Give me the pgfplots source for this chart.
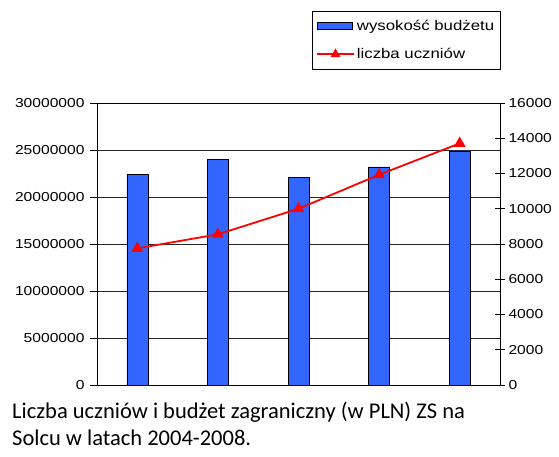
\documentclass[border=0pt]{standalone}
\usepackage{fontspec}
\setmainfont{Liberation Sans}[FakeStretch=1.2]
\newfontfamily\capfont{Carlito}
\usepackage{pgfplots}
\pgfplotsset{compat=1.18}
\definecolor{barblue}{RGB}{51,102,255}

\begin{document}
\begin{tikzpicture}
\path[use as bounding box] (0,0) rectangle (559bp,457bp);
\begin{axis}[
  at={(97bp,72bp)}, anchor=south west,
  scale only axis, width=403bp, height=282bp,
  xmin=-0.5, xmax=4.5, ymin=0, ymax=30000000,
  xtick=\empty,
  ytick={0,5000000,10000000,15000000,20000000,25000000,30000000},
  scaled y ticks=false,
  /pgf/number format/assume math mode=true,
  yticklabel style={/pgf/number format/fixed, /pgf/number format/1000 sep={}, font=\fontsize{13bp}{15bp}\selectfont, xshift=-2bp},
  ytick pos=left, tick align=outside, major tick length=7bp,
  ymajorgrids, grid style={black!85, line width=0.6bp},
  axis line style={black, line width=0.7bp},
  tick style={black, line width=0.6bp},
  ybar, bar width=0.26,
]
\addplot[fill=barblue, draw=black, line width=0.5bp] coordinates {(0,22400000) (1,24000000) (2,22100000) (3,23200000) (4,24900000)};
\end{axis}
\begin{axis}[
  at={(97bp,72bp)}, anchor=south west,
  scale only axis, width=403bp, height=282bp,
  xmin=-0.5, xmax=4.5, ymin=0, ymax=16000,
  axis y line*=right, axis x line=none,
  ytick={0,2000,4000,6000,8000,10000,12000,14000,16000},
  scaled y ticks=false,
  /pgf/number format/assume math mode=true,
  yticklabel style={/pgf/number format/fixed, /pgf/number format/1000 sep={}, font=\fontsize{13bp}{15bp}\selectfont},
  tick align=center, major tick length=10bp,
  axis line style={black, line width=0.7bp},
  tick style={black, line width=0.6bp},
  legend style={at={(0.533,1.327)}, anchor=north west, draw=black, line width=0.6bp,
    font=\fontsize{14bp}{16bp}\selectfont, inner xsep=4bp, inner ysep=7bp, row sep=12.5bp,
    /tikz/every even column/.append style={column sep=2bp}},
  legend cell align=left,
]
\addlegendimage{legend image code/.code={\draw[fill=barblue, draw=black, line width=0.7bp] (0bp,-3.8bp) rectangle (35bp,3.8bp);}}
\addlegendentry{wysokość budżetu}
\addplot[red, line width=1.8bp, mark=triangle*, mark size=5bp, mark options={solid, fill=red},
  legend image code/.code={\draw[red, line width=1.8bp, mark=triangle*, mark size=4bp, mark options={solid, fill=red}, mark repeat=2, mark phase=2] plot coordinates {(0bp,0bp) (18.5bp,0bp) (37bp,0bp)};}]
  coordinates {(0,7750) (1,8550) (2,10000) (3,11930) (4,13710)};
\addlegendentry{liczba uczniów}
\end{axis}
\node[anchor=base west, inner sep=0pt, font=\capfont\fontsize{22.5bp}{27bp}\selectfont] at (12bp,38.7bp) {Liczba uczniów i budżet zagraniczny (w PLN) ZS na};
\node[anchor=base west, inner sep=0pt, font=\capfont\fontsize{22.5bp}{27bp}\selectfont] at (12bp,12bp) {Solcu w latach 2004-2008.};
\end{tikzpicture}
\end{document}
